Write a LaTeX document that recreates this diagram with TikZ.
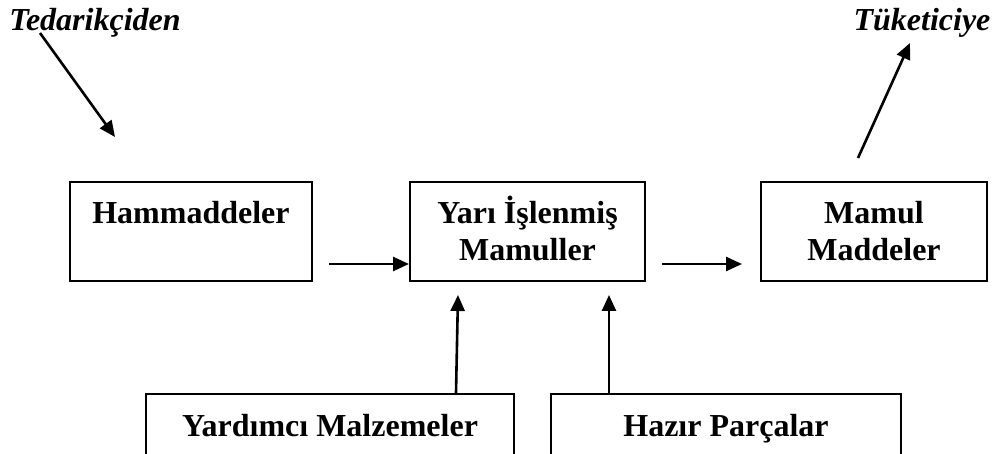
\documentclass[tikz,border=0pt]{standalone}
\usepackage{fontspec}
\setmainfont{Liberation Serif}
\usetikzlibrary{arrows.meta}
\newcommand\topstrut{\rule{0pt}{15.9pt}}
\begin{document}
\begin{tikzpicture}[x=0.5pt,y=-0.5pt,
  box/.style={draw,line width=1pt,rectangle,align=center,inner sep=0pt,
    font=\fontsize{16}{18.5}\selectfont\bfseries},
  tag/.style={anchor=base,inner sep=0pt,font=\fontsize{16}{18.5}\selectfont\bfseries\itshape},
  flow/.style={line width=1.3pt,-{Triangle[length=8pt,width=7pt]}}]
\clip (0,0) rectangle (998,454);
\fill[white] (0,0) rectangle (998,454);

% main chain
\node[box,minimum width=121pt,minimum height=49.5pt] (ham) at (191,231.5) {\topstrut Hammaddeler\\\strut};
\node[box,minimum width=117.5pt,minimum height=49.5pt] (yari) at (527.5,231.5) {\topstrut Yarı İşlenmiş\\\strut Mamuller};
\node[box,minimum width=113pt,minimum height=49.5pt] (mamul) at (874,231.5) {\topstrut Mamul\\\strut Maddeler};

% inputs from below
\node[box,minimum width=184pt,minimum height=35pt] (yard) at (330,429) {\strut Yardımcı Malzemeler};
\node[box,minimum width=175pt,minimum height=35pt] (hazir) at (726,429) {\strut Hazır Parçalar};

% outside labels
\node[tag] (ted) at (95,31) {Tedarikçiden};
\node[tag] (tuk) at (922,31) {Tüketiciye};

% free ends of the connectors
\coordinate (a1) at (329,264);
\coordinate (a2s) at (662,264);
\coordinate (a2e) at (742,264);
\coordinate (u1e) at (458,295);
\coordinate (u2e) at (609,295);
\coordinate (t1s) at (40,33);
\coordinate (t1e) at (115,137);
\coordinate (t2s) at (858,158);
\coordinate (t2e) at (910,43);

\draw[flow] (a1) -- (a1 -| yari.west);
\draw[flow] (a2s) -- (a2e);
\draw[flow] (yard.north -| 456,0) -- (u1e);
\draw[flow] (hazir.north -| u2e) -- (u2e);
\draw[flow] (t1s) -- (t1e);
\draw[flow] (t2s) -- (t2e);
\end{tikzpicture}
\end{document}
